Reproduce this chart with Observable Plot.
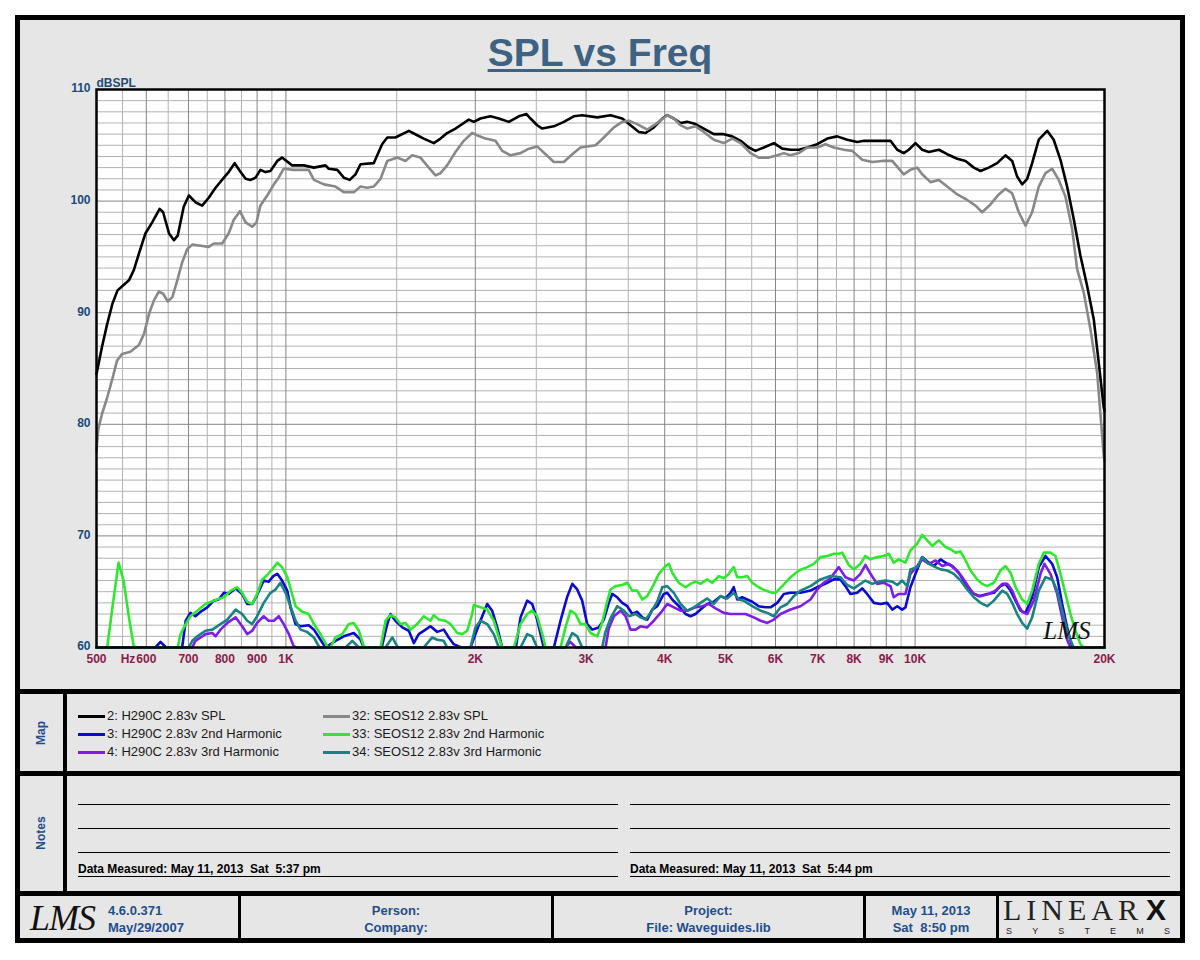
<!DOCTYPE html>
<html>
<head>
<meta charset="utf-8">
<script src="https://cdn.jsdelivr.net/npm/d3@7"></script>
<script src="https://cdn.jsdelivr.net/npm/@observablehq/plot@0.6"></script>
<style>
  html,body{margin:0;padding:0;background:#fff;}
  body{width:1200px;height:960px;position:relative;overflow:hidden;font-family:"Liberation Sans",Arial,sans-serif;}
  #panel{position:absolute;left:15px;top:15px;width:1170px;height:928px;box-sizing:border-box;border:5px solid #000;background:#e6e6e6;}
  #chart{position:absolute;left:0;top:0;width:1200px;height:690px;}
  .bar{position:absolute;background:#000;}
  .title{position:absolute;left:0;width:1200px;top:31px;text-align:center;font:bold 39px/44px "Liberation Sans",Arial,sans-serif;color:#3d6282;text-decoration:underline;text-decoration-thickness:3px;text-underline-offset:3px;}
  .leg{position:absolute;height:16px;line-height:16px;font-size:13px;color:#1a1a1a;white-space:nowrap;}
  .sw{position:absolute;height:2px;width:27px;}
  .vlab{position:absolute;transform:translate(-50%,-50%) rotate(-90deg);font:bold 12px "Liberation Sans",Arial,sans-serif;color:#1f4e8c;white-space:nowrap;}
  .rule{position:absolute;height:1px;background:#000;}
  .note{position:absolute;font:bold 12px/14px "Liberation Sans",Arial,sans-serif;white-space:pre;color:#000;}
  .ft{position:absolute;font:bold 13px/17px "Liberation Sans",Arial,sans-serif;color:#1f4e8c;white-space:pre;}
  .ftc{text-align:center;}
</style>
</head>
<body>
<div id="panel"></div>
<div class="title">SPL vs Freq</div>
<div id="chart"></div>
<script>
// ---------- DATA: [frequency Hz, dB SPL] ----------
const h290cSPL = [[500,84.5],[510,86.9],[520,89.0],[530,90.8],[540,92.0],[563,92.9],[573,93.8],[584,95.3],[598,97.1],[613,98.1],[630,99.3],[638,99.0],[652,97.1],[664,96.5],[673,96.9],[688,99.5],[701,100.5],[718,99.9],[736,99.6],[754,100.3],[773,101.2],[797,102.1],[811,102.6],[829,103.4],[845,102.7],[863,102.0],[879,101.9],[895,102.1],[911,102.8],[928,102.6],[945,102.7],[969,103.6],[986,103.9],[1023,103.2],[1068,103.2],[1108,103.0],[1156,103.2],[1170,102.9],[1207,102.8],[1236,102.1],[1263,101.9],[1290,102.4],[1314,103.3],[1379,103.4],[1422,105.1],[1449,105.7],[1493,105.7],[1568,106.3],[1617,105.9],[1656,105.6],[1718,105.2],[1761,105.6],[1804,106.1],[1860,106.5],[1894,106.8],[1953,107.3],[1989,107.1],[2038,107.4],[2114,107.6],[2180,107.4],[2261,107.1],[2345,107.6],[2412,107.8],[2448,107.4],[2508,106.8],[2555,106.5],[2666,106.7],[2765,107.1],[2868,107.6],[2957,107.7],[3125,107.5],[3280,107.7],[3424,107.4],[3530,106.8],[3639,106.2],[3729,106.1],[3844,106.6],[3964,107.4],[4037,107.7],[4136,107.4],[4239,107.0],[4344,107.1],[4477,106.9],[4615,106.5],[4787,106.0],[4966,106.0],[5120,105.8],[5282,105.4],[5442,104.8],[5576,104.5],[5749,104.8],[5965,105.2],[6150,104.7],[6339,104.6],[6534,104.6],[6740,104.8],[6989,105.1],[7251,105.6],[7520,105.8],[7800,105.5],[8092,105.3],[8290,105.4],[8600,105.4],[9139,105.4],[9368,104.6],[9594,104.3],[9771,104.6],[10015,105.2],[10264,104.6],[10514,104.4],[10909,104.6],[11246,104.2],[11669,103.8],[12027,103.6],[12397,103.0],[12705,102.7],[13094,103.0],[13503,103.4],[13918,104.1],[14265,103.6],[14529,102.2],[14796,101.5],[15072,102.0],[15348,103.4],[15724,105.5],[16216,106.3],[16608,105.5],[17023,103.7],[17443,101.3],[17870,98.4],[18314,95.1],[18770,92.4],[19231,89.4],[19585,85.5],[19944,81.5],[20000,81.2]];

const h290c2nd = [[500,60],[620,60],[632,60.5],[645,60],[684,60],[693,62.4],[705,63.1],[718,62.8],[732,63.2],[750,63.6],[768,64.2],[782,64.3],[797,64.9],[811,64.8],[832,65.3],[852,64.8],[868,63.9],[884,63.9],[900,64.7],[922,66.0],[939,65.9],[955,66.4],[969,66.6],[986,66.0],[1005,65.1],[1017,63.6],[1036,62.1],[1055,61.9],[1087,62.0],[1108,61.6],[1135,60.7],[1156,60],[1199,60.6],[1236,61.0],[1282,61.3],[1314,60.7],[1330,60],[1420,60],[1449,62.1],[1466,63.0],[1493,62.4],[1531,61.8],[1568,61.5],[1597,60.4],[1626,61.2],[1667,61.6],[1697,61.9],[1740,61.4],[1782,61.6],[1815,60.9],[1848,60.3],[1883,60.1],[1906,60],[1965,60],[2001,61.2],[2038,62.4],[2089,63.9],[2127,63.3],[2167,61.8],[2207,60],[2320,60],[2360,62.7],[2418,64.2],[2463,63.9],[2508,62.5],[2569,60],[2666,60],[2732,62.4],[2798,64.5],[2852,65.7],[2904,65.2],[2957,64.2],[3012,62.1],[3068,61.6],[3142,61.8],[3201,62.5],[3260,64.0],[3301,64.8],[3362,64.5],[3424,64.0],[3488,63.7],[3552,63.0],[3617,63.2],[3685,62.7],[3752,62.5],[3822,63.4],[3892,63.7],[3987,64.8],[4037,64.9],[4112,64.3],[4212,63.7],[4317,63.0],[4396,62.8],[4477,63.0],[4560,63.4],[4673,63.9],[4787,64.1],[4906,64.6],[4996,64.4],[5089,64.9],[5150,65.4],[5215,64.3],[5311,64.5],[5410,64.3],[5510,64.1],[5643,63.7],[5785,63.6],[5892,63.6],[6038,64.0],[6186,64.8],[6339,64.9],[6574,64.9],[6819,65.1],[6989,65.4],[7251,65.8],[7427,66.1],[7610,66.1],[7750,65.5],[7893,64.8],[8092,64.9],[8240,65.3],[8390,64.8],[8600,64.0],[8809,63.9],[9027,64.0],[9198,63.4],[9368,63.7],[9537,63.4],[9653,63.6],[9830,65.4],[10015,66.6],[10264,68.1],[10514,67.6],[10710,67.3],[10976,67.9],[11246,67.5],[11456,67.3],[11736,66.7],[12027,65.7],[12326,64.9],[12627,64.6],[13022,64.8],[13340,64.9],[13671,65.5],[13918,65.7],[14181,65.1],[14443,64.2],[14709,63.3],[14979,63.1],[15348,64.5],[15724,67.2],[16115,68.2],[16513,67.5],[16820,66.3],[17131,63.9],[17443,61.8],[17767,60],[20000,60]];

const h290c3rd = [[500,60],[710,60],[718,60.6],[732,60.9],[745,61.2],[764,61.3],[773,61.0],[787,61.6],[807,62.2],[832,62.7],[852,61.9],[868,61.2],[884,61.5],[900,62.2],[922,62.8],[939,62.4],[957,62.4],[974,62.8],[992,62.1],[1011,61.2],[1029,60.1],[1042,60],[2780,60],[2832,60.5],[2890,60],[3221,60],[3259,61.7],[3321,62.8],[3403,63.3],[3466,62.8],[3530,61.6],[3595,61.6],[3662,61.9],[3752,61.8],[3844,62.4],[3940,63.1],[4037,63.9],[4136,63.6],[4239,63.3],[4344,63.3],[4477,63.6],[4589,63.7],[4701,63.9],[4817,63.5],[4966,63.1],[5089,63.0],[5215,63.0],[5376,63.0],[5542,62.7],[5680,62.4],[5821,62.2],[5965,62.5],[6111,63.0],[6339,63.4],[6574,63.7],[6819,64.3],[6989,65.2],[7159,65.8],[7336,66.2],[7562,67.2],[7750,66.3],[7989,66.0],[8187,66.6],[8338,67.4],[8492,66.6],[8703,65.7],[8916,65.8],[9139,65.5],[9248,64.5],[9419,64.8],[9653,64.8],[9830,66.6],[10077,67.3],[10264,67.9],[10514,67.5],[10777,67.8],[11044,67.3],[11314,67.5],[11595,67.0],[11883,66.3],[12173,65.4],[12397,64.8],[12705,64.6],[13094,64.8],[13423,65.1],[13757,65.7],[14011,65.7],[14265,65.1],[14529,64.0],[14796,63.2],[15072,63.0],[15443,64.2],[15823,66.6],[16056,67.5],[16412,66.6],[16820,64.8],[17131,62.7],[17443,60.7],[17659,60],[20000,60]];

const seos12SPL = [[500,77.6],[503,79.5],[510,80.9],[520,82.4],[530,84.1],[539,85.7],[549,86.3],[566,86.5],[584,87.1],[595,88.1],[606,89.9],[617,91.1],[628,91.9],[638,91.7],[649,91.0],[660,91.4],[672,92.9],[684,94.5],[697,95.7],[710,96.1],[732,96.0],[754,95.9],[768,96.2],[792,96.2],[811,97.1],[826,98.3],[845,99.1],[863,98.1],[884,97.7],[898,98.1],[911,99.6],[934,100.5],[957,101.5],[974,102.1],[992,102.9],[1029,102.8],[1087,102.8],[1108,101.9],[1149,101.5],[1199,101.3],[1236,100.8],[1282,100.8],[1314,101.3],[1346,101.2],[1379,101.3],[1414,102.0],[1449,103.6],[1503,103.9],[1549,103.6],[1587,104.1],[1636,103.9],[1687,103.0],[1729,102.3],[1761,102.5],[1804,103.2],[1860,104.4],[1917,105.4],[1977,106.1],[2013,105.9],[2076,105.6],[2153,105.4],[2207,104.5],[2275,104.1],[2360,104.3],[2433,104.7],[2508,104.9],[2586,104.2],[2666,103.5],[2765,103.5],[2852,104.2],[2939,104.8],[3106,105.0],[3201,105.7],[3321,106.6],[3424,107.1],[3508,107.2],[3617,106.9],[3752,106.4],[3868,106.9],[4037,107.7],[4136,107.4],[4239,106.8],[4344,106.5],[4477,106.7],[4615,106.2],[4787,105.5],[4966,105.2],[5120,105.6],[5282,105.2],[5476,104.3],[5643,103.9],[5856,103.9],[6038,104.1],[6186,104.3],[6339,104.1],[6534,104.3],[6740,104.8],[6989,104.8],[7206,105.1],[7427,104.8],[7703,104.6],[7944,104.5],[8241,103.7],[8549,103.5],[8866,103.6],[9198,103.6],[9594,102.4],[9830,102.8],[10077,103.0],[10264,102.4],[10580,101.7],[10909,101.9],[11246,101.3],[11669,100.6],[12101,100.1],[12473,99.6],[12783,99.0],[13177,99.7],[13582,100.6],[13918,101.1],[14265,100.7],[14614,99.0],[14979,97.8],[15348,99.0],[15724,101.3],[16115,102.5],[16513,102.9],[16917,101.9],[17337,100.4],[17767,97.5],[18094,93.9],[18538,91.8],[19000,88.5],[19470,84.6],[19944,77.2],[20000,76.8]];

const seos12_2nd = [[500,60],[520,60],[530,63.6],[542,67.6],[552,66.0],[563,62.7],[573,60.1],[580,60],[673,60],[680,61.2],[693,62.1],[705,62.8],[723,63.3],[745,63.9],[768,64.2],[797,64.5],[817,65.1],[837,65.4],[852,64.9],[868,64.1],[884,63.9],[900,64.8],[917,66.1],[934,66.5],[951,67.0],[969,67.6],[986,67.2],[1005,66.3],[1017,65.3],[1036,63.7],[1061,63.2],[1087,63.0],[1108,62.1],[1135,61.2],[1163,60.1],[1177,60],[1199,60.9],[1229,61.2],[1259,62.1],[1282,62.2],[1306,61.5],[1330,60.1],[1338,60],[1414,60],[1440,62.4],[1466,62.9],[1493,62.7],[1521,62.1],[1549,62.2],[1578,61.6],[1617,62.1],[1656,62.8],[1697,62.4],[1718,62.9],[1750,62.5],[1793,62.4],[1826,62.1],[1872,61.3],[1906,61.2],[1941,61.5],[1977,63.0],[1989,63.8],[2038,63.6],[2089,63.4],[2140,62.4],[2180,60.9],[2207,60],[2303,60],[2360,62.1],[2418,63.0],[2463,63.3],[2508,62.8],[2555,61.2],[2586,60],[2732,60],[2782,61.8],[2833,63.3],[2886,63.0],[2939,62.1],[2993,62.1],[3048,61.3],[3125,61.0],[3180,62.2],[3230,63.8],[3280,65.2],[3342,65.5],[3424,65.6],[3488,65.8],[3552,65.1],[3617,65.1],[3685,64.3],[3752,64.6],[3822,65.4],[3915,66.6],[4012,67.3],[4061,67.5],[4112,66.7],[4212,65.8],[4317,65.4],[4396,65.7],[4477,65.9],[4560,65.7],[4673,66.1],[4760,65.8],[4876,66.4],[4966,66.2],[5057,66.6],[5150,67.2],[5215,66.3],[5311,66.3],[5410,66.4],[5510,65.8],[5643,65.4],[5785,65.1],[5928,64.9],[6000,64.9],[6150,65.5],[6339,66.3],[6534,66.9],[6740,67.2],[6902,67.5],[7073,68.1],[7251,68.2],[7427,68.4],[7562,68.4],[7657,68.5],[7844,67.4],[7989,67.0],[8187,67.5],[8338,68.2],[8492,67.9],[8703,68.1],[8916,68.2],[9080,68.4],[9248,67.6],[9419,67.9],[9653,67.6],[9830,68.7],[10077,69.3],[10264,70.1],[10454,69.6],[10647,69.1],[10909,69.6],[11178,69.0],[11385,68.8],[11595,68.5],[11809,68.6],[12027,67.8],[12249,66.9],[12553,66.1],[12783,65.7],[13022,65.5],[13340,65.8],[13671,66.9],[13918,67.3],[14181,66.7],[14443,65.4],[14796,64.3],[15072,63.9],[15348,65.1],[15724,67.5],[16015,68.5],[16412,68.5],[16715,68.2],[17023,66.6],[17337,64.8],[17659,63.0],[17985,61.5],[18314,60.3],[18538,60],[20000,60]];

const seos12_3rd = [[500,60],[701,60],[710,60.6],[723,61.0],[745,61.5],[764,61.6],[787,62.1],[807,62.5],[832,63.4],[852,63.0],[868,62.4],[884,62.1],[900,62.8],[922,64.0],[945,64.9],[963,65.2],[980,65.8],[999,64.9],[1017,63.7],[1036,62.4],[1055,61.6],[1080,61.4],[1108,60.9],[1128,60.1],[1135,60],[1244,60],[1275,60.6],[1306,60],[1440,60],[1476,60.9],[1503,60.1],[1510,60],[1656,60],[1708,60.9],[1740,60.7],[1782,60.6],[1804,60],[1965,60],[2001,61.8],[2038,62.4],[2089,62.1],[2140,61.2],[2180,60],[2360,60],[2418,61.2],[2463,61.0],[2508,60],[2782,60],[2852,61.3],[2904,61.0],[2957,60],[3182,60],[3220,61.4],[3280,62.6],[3362,63.7],[3445,63.3],[3508,62.8],[3595,63.0],[3662,62.7],[3729,62.5],[3798,63.1],[3892,64.1],[3964,65.4],[4037,65.5],[4136,64.9],[4239,63.9],[4344,63.3],[4450,63.6],[4560,64.0],[4673,64.4],[4787,63.9],[4906,64.6],[5027,64.4],[5150,64.9],[5246,64.3],[5343,64.2],[5510,63.7],[5680,63.3],[5821,63.1],[5965,62.8],[6111,63.6],[6263,63.9],[6415,64.6],[6574,65.1],[6819,65.5],[7073,66.1],[7336,66.4],[7610,66.3],[7800,65.6],[7989,65.3],[8187,65.7],[8338,66.0],[8545,65.7],[8754,65.9],[8971,66.0],[9198,65.9],[9368,65.6],[9537,66.0],[9713,65.5],[9830,67.0],[10077,67.2],[10264,68.1],[10514,67.5],[10777,67.2],[10976,67.0],[11246,66.9],[11523,66.6],[11809,66.0],[12101,65.2],[12397,64.5],[12705,64.0],[13022,63.7],[13340,64.2],[13757,65.1],[14011,64.8],[14265,64.0],[14529,63.0],[14796,62.2],[15072,61.7],[15348,62.7],[15724,65.1],[16115,66.3],[16513,66.1],[16820,65.1],[17131,63.3],[17443,61.5],[17767,60.3],[17870,60],[20000,60]];

// legend / series info
const seriesNames = ["2: H290C 2.83v SPL","3: H290C 2.83v 2nd Harmonic","4: H290C 2.83v 3rd Harmonic","32: SEOS12 2.83v SPL","33: SEOS12 2.83v 2nd Harmonic","34: SEOS12 2.83v 3rd Harmonic"];
const seriesColors = ["#000000","#0a0ad2","#7d1ee6","#888888","#2ee82e","#1a8282"];
const seriesData = [h290cSPL, h290c2nd, h290c3rd, seos12SPL, seos12_2nd, seos12_3rd];

// axis ticks
const xLabelTicks = [500,600,700,800,900,1000,2000,3000,4000,5000,6000,7000,8000,9000,10000,20000];
const xMajorGrid = [600,700,800,900,1000,2000,3000,4000,5000,6000,7000,8000,9000,10000];
const xMinorGrid = [550,650,750,850,950,1500,2500,3500,4500,5500,6500,7500,8500,9500,15000];
const yLabelTicks = [60,70,80,90,100,110];
const yMajorGrid = [70,80,90,100];
const yMinorGrid = d3.range(61,110).filter(v => v % 10 !== 0);

// texts
const titleText = "SPL vs Freq";
const yUnit = "dBSPL";
const hzLabel = [{f:561, t:"Hz"}];
const noteLeft = "Data Measured: May 11, 2013  Sat  5:37 pm";
const noteRight = "Data Measured: May 11, 2013  Sat  5:44 pm";

const fmtFreq = f => f >= 1000 ? (f/1000) + "K" : String(f);
const F = "Liberation Sans, Arial, sans-serif";

const lineMarks = seriesData.map((data, i) => Plot.line(data, {
  x: d => d[0], y: d => d[1], stroke: seriesColors[i], strokeWidth: 2.6,
  strokeLinejoin: "round", strokeLinecap: "round"
}));

const chart = Plot.plot({
  width: 1200, height: 690,
  marginLeft: 96, marginRight: 96, marginTop: 89, marginBottom: 43,
  style: {background: "transparent", fontFamily: F, overflow: "visible"},
  x: {type: "log", domain: [500, 20000], label: null, axis: null},
  y: {domain: [60, 110], label: null, axis: null},
  marks: [
    Plot.frame({fill: "#ffffff", stroke: null}),
    Plot.ruleY(yMinorGrid, {stroke: "#b2b2b2", strokeWidth: 1}),
    Plot.ruleX(xMinorGrid, {stroke: "#b2b2b2", strokeWidth: 1}),
    Plot.ruleY(yMajorGrid, {stroke: "#858585", strokeWidth: 1}),
    Plot.ruleX(xMajorGrid, {stroke: "#858585", strokeWidth: 1}),
    ...lineMarks,
    Plot.frame({stroke: "#000", strokeWidth: 2.5}),
    // x tick labels
    Plot.text(xLabelTicks, {x: d => d, frameAnchor: "bottom", dy: 15, text: fmtFreq, fill: "#8b1c4c", fontWeight: "bold", fontSize: 12, fontFamily: F}),
    Plot.text(hzLabel, {x: "f", frameAnchor: "bottom", dy: 15, text: "t", fill: "#8b1c4c", fontWeight: "bold", fontSize: 12, fontFamily: F}),
    // y tick labels
    Plot.text(yLabelTicks, {y: d => d, frameAnchor: "left", dx: -6, dy: -1, textAnchor: "end", text: d => String(d), fill: "#1a4a7a", fontWeight: "bold", fontSize: 12, fontFamily: F}),
    Plot.text([yUnit], {frameAnchor: "top-left", dy: -11, textAnchor: "start", fill: "#1a4a7a", fontWeight: "bold", fontSize: 12, fontFamily: F}),
    Plot.text(["LMS"], {frameAnchor: "bottom-right", dx: -14, dy: -9, textAnchor: "end", lineAnchor: "bottom", fill: "#111", fontSize: 25, fontStyle: "italic", fontFamily: "Liberation Serif, serif"})
  ]
});
document.getElementById("chart").appendChild(chart);
document.querySelector(".title").textContent = titleText;

// ---------- panel furniture ----------
function el(tag, cls, style, text, parent) {
  const e = document.createElement(tag);
  if (cls) e.className = cls;
  Object.assign(e.style, style);
  if (text != null) e.textContent = text;
  (parent || document.body).appendChild(e);
  return e;
}
// section dividers
el("div","bar",{left:"15px",top:"689px",width:"1170px",height:"5px"});
el("div","bar",{left:"15px",top:"771px",width:"1170px",height:"5px"});
el("div","bar",{left:"15px",top:"891px",width:"1170px",height:"5px"});
el("div","bar",{left:"63px",top:"692px",width:"4px",height:"200px"});
[238,551,863,996].forEach(x => el("div","bar",{left:x+"px",top:"894px",width:"3px",height:"46px"}));

// side labels
el("div","vlab",{left:"41px",top:"733px"},"Map");
el("div","vlab",{left:"41px",top:"833px"},"Notes");

// legend
const legCols = [78, 323];
const legRows = [716, 734, 752];
seriesNames.forEach((name, i) => {
  const col = Math.floor(i / 3), row = i % 3;
  el("div","sw",{left:legCols[col]+"px",top:(legRows[row]-1)+"px",background:seriesColors[i],height:"2.5px"});
  el("div","leg",{left:(legCols[col]+29)+"px",top:(legRows[row]-8)+"px"},name);
});

// notes lines
[[78,540],[630,540]].forEach(([x,w]) => {
  [804,828,852,876].forEach(y => el("div","rule",{left:x+"px",top:y+"px",width:w+"px"}));
});
el("div","note",{left:"78px",top:"862px"},noteLeft);
el("div","note",{left:"630px",top:"862px"},noteRight);

// footer
el("div","",{position:"absolute",left:"30px",top:"898px",font:"italic 36px/40px 'Liberation Serif', serif",color:"#111",letterSpacing:"-1px"},"LMS");
el("div","ft",{left:"108px",top:"902px"},"4.6.0.371");
el("div","ft",{left:"108px",top:"919px"},"May/29/2007");
el("div","ft ftc",{left:"241px",width:"310px",top:"902px"},"Person:");
el("div","ft ftc",{left:"241px",width:"310px",top:"919px"},"Company:");
el("div","ft ftc",{left:"554px",width:"309px",top:"902px"},"Project:");
el("div","ft ftc",{left:"554px",width:"309px",top:"919px"},"File: Waveguides.lib");
el("div","ft ftc",{left:"866px",width:"130px",top:"902px"},"May 11, 2013");
el("div","ft ftc",{left:"866px",width:"130px",top:"919px"},"Sat  8:50 pm");
// LinearX logo
el("div","",{position:"absolute",left:"1003px",top:"898px",font:"300 30px/24px 'Liberation Serif', serif",color:"#222",letterSpacing:"5px",whiteSpace:"nowrap"},"LINEAR");
el("div","",{position:"absolute",left:"1146px",top:"898px",font:"bold 30px/24px 'Liberation Sans', Arial, sans-serif",color:"#111"},"X");
const sys = el("div","",{position:"absolute",left:"1006px",top:"925px",width:"164px",height:"12px",display:"flex",justifyContent:"space-between",font:"9px/12px 'Liberation Sans', Arial, sans-serif",color:"#222"});
"SYSTEMS".split("").forEach(c => el("span","",{},c,sys));
</script>
</body>
</html>
